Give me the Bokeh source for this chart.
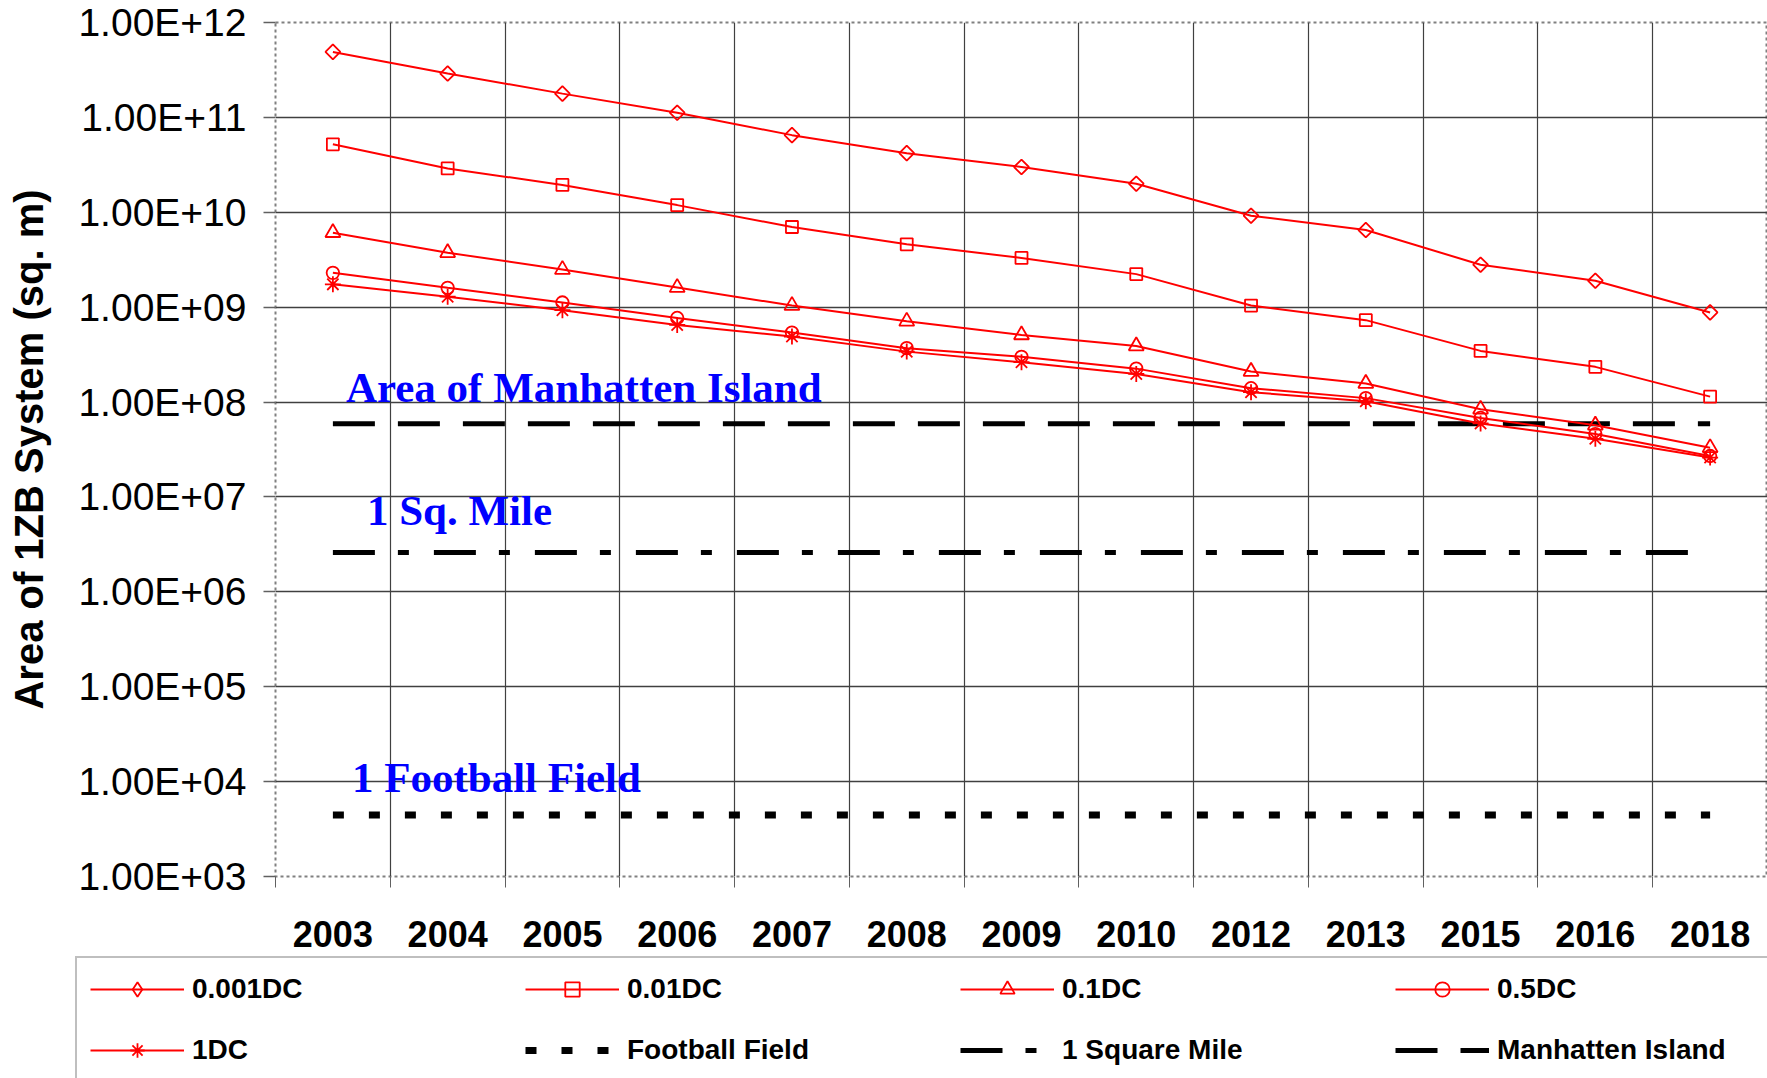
import numpy as np
from bokeh.plotting import figure
from bokeh.layouts import column
from bokeh.models import (Range1d, FixedTicker, CustomJSTickFormatter, Legend,
                          LegendItem, Label)
from bokeh.embed import file_html
from bokeh.resources import INLINE

# ---------------- data ----------------
years = ["2003", "2004", "2005", "2006", "2007", "2008", "2009",
         "2010", "2012", "2013", "2015", "2016", "2018"]

dc_0001 = [4.9e11, 2.9e11, 1.78e11, 1.12e11, 6.5e10, 4.2e10, 3.0e10,
           2.0e10, 9.2e9, 6.5e9, 2.8e9, 1.9e9, 8.8e8]
dc_001 = [5.2e10, 2.9e10, 1.94e10, 1.19e10, 7.0e9, 4.6e9, 3.3e9,
          2.23e9, 1.04e9, 7.3e8, 3.46e8, 2.35e8, 1.14e8]
dc_01 = [6.1e9, 3.75e9, 2.49e9, 1.61e9, 1.04e9, 7.1e8, 5.1e8,
         3.9e8, 2.1e8, 1.57e8, 8.4e7, 5.7e7, 3.3e7]
dc_05 = [2.3e9, 1.6e9, 1.12e9, 7.7e8, 5.4e8, 3.7e8, 3.0e8,
         2.25e8, 1.4e8, 1.1e8, 6.8e7, 4.6e7, 2.7e7]
dc_1 = [1.74e9, 1.29e9, 9.3e8, 6.5e8, 4.9e8, 3.4e8, 2.63e8,
        1.98e8, 1.27e8, 1.02e8, 5.95e7, 4.1e7, 2.6e7]

series_names = ["0.001DC", "0.01DC", "0.1DC", "0.5DC", "1DC"]
series_values = [dc_0001, dc_001, dc_01, dc_05, dc_1]

football_field = 4460.0
square_mile = 2.59e6
manhattan_island = 5.9e7
ref_names = ["Football Field", "1 Square Mile", "Manhatten Island"]
ref_values = [football_field, square_mile, manhattan_island]

annotation_texts = ["Area of Manhatten Island", "1 Sq. Mile", "1 Football Field"]
annotation_levels = [1e8, 1e7, 1e4]

y_ticks = [1e3, 1e4, 1e5, 1e6, 1e7, 1e8, 1e9, 1e10, 1e11, 1e12]

# ---------------- main figure ----------------
n = len(years)
xs = list(range(n))

p = figure(width=1767, height=955, output_backend="svg", toolbar_location=None,
           y_axis_type="log",
           x_range=Range1d(-0.5, n - 0.5), y_range=Range1d(y_ticks[0], y_ticks[-1]),
           min_border_left=275, min_border_right=0, min_border_top=22,
           min_border_bottom=79)
p.frame_align = False

p.outline_line_color = "#808080"
p.outline_line_width = 2
p.outline_line_dash = "3 3"
p.background_fill_color = "white"
p.border_fill_color = "white"

centers = [float(i) for i in xs]
bounds = [i - 0.5 for i in range(n + 1)]

# x axis
p.xaxis.ticker = FixedTicker(ticks=centers, minor_ticks=bounds)
p.xaxis.major_label_overrides = {i: y for i, y in enumerate(years)}
p.xaxis.major_tick_line_color = None
p.xaxis.major_tick_out = 0
p.xaxis.major_tick_in = 0
p.xaxis.minor_tick_line_color = "#606060"
p.xaxis.minor_tick_line_width = 1
p.xaxis.minor_tick_out = 11
p.xaxis.minor_tick_in = 0
p.xaxis.axis_line_color = None
p.xaxis.major_label_text_font = "Liberation Sans"
p.xaxis.major_label_text_font_style = "bold"
p.xaxis.major_label_text_font_size = "36px"
p.xaxis.major_label_text_color = "black"
p.xaxis.major_label_standoff = 33

p.xgrid.ticker = FixedTicker(ticks=bounds)
p.xgrid.grid_line_color = "#404040"
p.xgrid.grid_line_width = 1.2

# y axis
p.yaxis.ticker = FixedTicker(ticks=y_ticks)
p.yaxis.formatter = CustomJSTickFormatter(code="""
    const e = Math.round(Math.log10(tick));
    const s = (e < 10 ? "0" : "") + e;
    return "1.00E+" + s;
""")
p.yaxis.axis_line_color = None
p.yaxis.major_tick_line_color = "#606060"
p.yaxis.major_tick_line_width = 1.5
p.yaxis.major_tick_out = 12
p.yaxis.major_tick_in = 0
p.yaxis.minor_tick_line_color = None
p.yaxis.major_label_text_font = "Liberation Sans"
p.yaxis.major_label_text_font_size = "39px"
p.yaxis.major_label_text_color = "black"
p.yaxis.major_label_standoff = 17
p.yaxis.axis_label = "Area of 1ZB System (sq. m)"
p.yaxis.axis_label_text_font = "Liberation Sans"
p.yaxis.axis_label_text_font_style = "bold"
p.yaxis.axis_label_text_font_size = "40px"
p.yaxis.axis_label_text_color = "black"
p.yaxis.axis_label_standoff = 24

p.ygrid.ticker = FixedTicker(ticks=y_ticks)
p.ygrid.grid_line_color = "#404040"
p.ygrid.grid_line_width = 1.5

# ---------------- styles ----------------
ref_styles = [
    dict(line_width=7, line_dash="11 25"),
    dict(line_width=5, line_dash="42 23 11 25"),
    dict(line_width=5, line_dash="42 23"),
]
marker_specs = [
    dict(marker="square", size=10.5, angle=np.pi / 4),
    dict(marker="square", size=12),
    dict(marker="triangle", size=15),
    dict(marker="circle", size=12.5),
    dict(marker="asterisk", size=16),
]
legend_markers = ["diamond", "square", "triangle", "circle", "asterisk"]
red = "#FF0000"

# ---------------- reference lines ----------------
for val, st in zip(ref_values, ref_styles):
    p.line(xs, [val] * n, line_color="black", **st)

# ---------------- series ----------------
for vals, ms in zip(series_values, marker_specs):
    p.line(xs, vals, line_color=red, line_width=2)
    p.scatter(xs, vals, line_color=red, line_width=1.8, fill_color=None, **ms)

# ---------------- text annotations ----------------
ann_offsets = [(13, 15), (34, -14), (19, 4)]
for txt, lvl, (dx, dy) in zip(annotation_texts, annotation_levels, ann_offsets):
    p.add_layout(Label(x=xs[0], y=lvl, x_offset=dx, y_offset=dy, text=txt,
                       text_font="Liberation Serif", text_font_style="bold",
                       text_font_size="43px", text_color="#0000FF",
                       text_baseline="alphabetic", text_align="left"))

# ---------------- legend strip (separate figure below) ----------------
leg = figure(width=1767, height=123, output_backend="svg", toolbar_location=None,
             x_range=Range1d(-100, -99), y_range=Range1d(-100, -99),
             min_border=0, min_border_left=0, min_border_right=0,
             min_border_top=0, min_border_bottom=0)
leg.frame_align = False
leg.axis.visible = False
leg.grid.visible = False
leg.outline_line_color = None
leg.background_fill_color = "white"
leg.border_fill_color = "white"

# legend proxies: same data, outside the strip's visible range
items = []
for nm, vals, mk in zip(series_names, series_values, legend_markers):
    lr = leg.line(xs, vals, line_color=red, line_width=2)
    sr = leg.scatter(xs, vals, marker=mk, line_color=red, line_width=1.8,
                     fill_color=None)
    items.append(LegendItem(label=nm, renderers=[lr, sr]))
for nm, val, st in zip(ref_names, ref_values, ref_styles):
    rr = leg.line(xs, [val] * n, line_color="black", **st)
    items.append(LegendItem(label=nm, renderers=[rr]))

legend = Legend(items=items, orientation="horizontal", ncols=4,
                location=(75, -5),
                glyph_width=94, glyph_height=36, label_standoff=8,
                label_width=308, label_height=30, spacing=25, padding=13,
                label_text_font="Liberation Sans", label_text_font_style="bold",
                label_text_font_size="28px", label_text_color="black",
                border_line_color="#808080", border_line_width=2,
                background_fill_color="white", background_fill_alpha=1.0,
                click_policy="none")
leg.add_layout(legend)

layout = column(p, leg, spacing=0)
open("out.html", "w").write(file_html(layout, INLINE))
